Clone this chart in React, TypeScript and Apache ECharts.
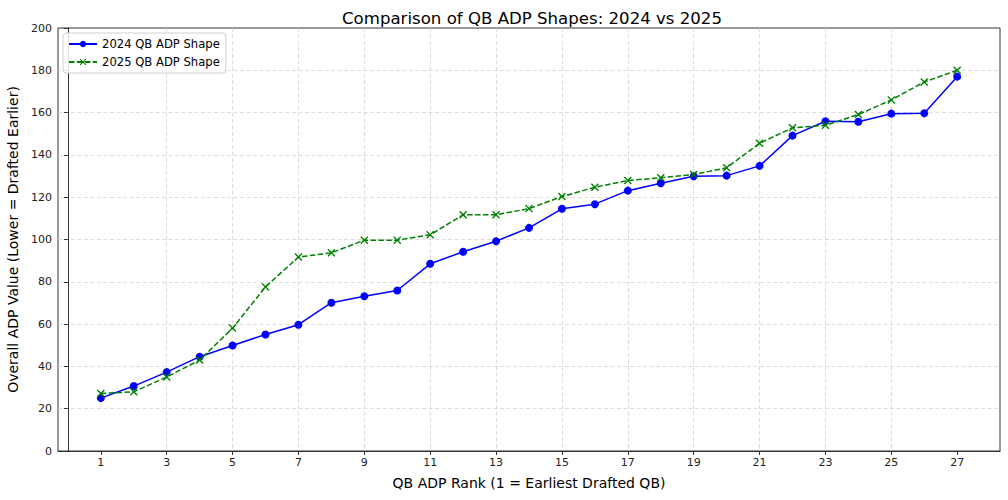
import React, { useEffect, useRef } from "react";
import * as echarts from "echarts";

const ranks = [1, 2, 3, 4, 5, 6, 7, 8, 9, 10, 11, 12, 13, 14, 15, 16, 17, 18, 19, 20, 21, 22, 23, 24, 25, 26, 27];
const adp2024 = [25, 30.7, 37.3, 44.6, 49.9, 55.1, 59.7, 70.1, 73.2, 75.9, 88.5, 94.2, 99.2, 105.5, 114.5, 116.7, 123.1, 126.6, 129.9, 130.2, 134.8, 149.1, 155.9, 155.7, 159.5, 159.7, 177];
const adp2025 = [27.2, 28.0, 35.0, 43.0, 58.1, 77.6, 91.7, 93.7, 99.7, 99.7, 102.2, 111.7, 111.7, 114.6, 120.3, 124.7, 127.9, 129.2, 130.7, 133.9, 145.5, 152.8, 154.0, 159.1, 166.0, 174.5, 180];
const xTicks = [1, 3, 5, 7, 9, 11, 13, 15, 17, 19, 21, 23, 25, 27];

const FONT = "DejaVu Sans";
const X_SYMBOL =
  "path://M0,1.2L1.2,0L5,3.8L8.8,0L10,1.2L6.2,5L10,8.8L8.8,10L5,6.2L1.2,10L0,8.8L3.8,5Z";

export default function App() {
  const ref = useRef<HTMLDivElement>(null);
  useEffect(() => {
    if (!ref.current) return;
    const chart = echarts.init(ref.current, undefined, { renderer: "svg" });
    const gridLine = { show: true, showMinLine: false, showMaxLine: false, lineStyle: { color: "#d4d4d4", type: [4, 2.5], width: 0.8 } };
    chart.setOption({
      animation: false,
      backgroundColor: "#fff",
      textStyle: { fontFamily: FONT },
      title: {
        text: "Comparison of QB ADP Shapes: 2024 vs 2025",
        left: 527,
        textAlign: "center",
        top: 5,
        textStyle: { fontFamily: FONT, fontSize: 16.6, fontWeight: "normal", color: "#000" },
      },
      grid: {
        left: 58, right: 8, top: 28, bottom: 49,
        outerBoundsMode: "none",
        containLabel: false,
        show: true, borderColor: "#333", borderWidth: 1, backgroundColor: "transparent",
      },
      legend: {
        orient: "vertical",
        left: 63,
        top: 33,
        padding: [5, 6, 5, 5],
        itemGap: 6,
        itemWidth: 28,
        itemHeight: 8,
        backgroundColor: "rgba(255,255,255,0.85)",
        borderColor: "#d0d0d0",
        borderWidth: 1,
        borderRadius: 3,
        textStyle: { fontFamily: FONT, fontSize: 11.6, color: "#000" },
        data: ["2024 QB ADP Shape", "2025 QB ADP Shape"],
      },
      xAxis: {
        type: "value",
        min: -0.3,
        max: 28.3,
        name: "QB ADP Rank (1 = Earliest Drafted QB)",
        nameLocation: "middle",
        nameGap: 25,
        nameTextStyle: { fontFamily: FONT, fontSize: 14, color: "#000" },
        axisLine: { show: true, lineStyle: { color: "#333", width: 1 } },
        axisTick: { show: true, customValues: xTicks, length: 4, lineStyle: { color: "#333" } },
        axisLabel: { customValues: xTicks, color: "#222", fontFamily: FONT, fontSize: 11, margin: 6 },
        splitLine: gridLine,
      },
      yAxis: {
        type: "value",
        min: 0,
        max: 200,
        interval: 20,
        name: "Overall ADP Value (Lower = Drafted Earlier)",
        nameLocation: "middle",
        nameGap: 35,
        nameTextStyle: { fontFamily: FONT, fontSize: 14, color: "#000" },
        axisLine: { show: true, lineStyle: { color: "#333", width: 1 } },
        axisTick: { show: true, length: 4, lineStyle: { color: "#333" } },
        axisLabel: { color: "#222", fontFamily: FONT, fontSize: 11, margin: 6 },
        splitLine: gridLine,
      },
      series: [
        {
          name: "2024 QB ADP Shape",
          type: "line",
          data: ranks.map((r, i) => [r, adp2024[i]]),
          symbol: "circle",
          symbolSize: 8,
          showAllSymbol: true,
          itemStyle: { color: "#0000ff" },
          lineStyle: { color: "#0000ff", width: 1.5 },
        },
        {
          name: "2025 QB ADP Shape",
          type: "line",
          data: ranks.map((r, i) => [r, adp2025[i]]),
          symbol: X_SYMBOL,
          symbolSize: 8,
          showAllSymbol: true,
          itemStyle: { color: "#008000" },
          lineStyle: { color: "#008000", width: 1.5, type: [5.5, 2.4] },
        },
      ],
    });
    return () => chart.dispose();
  }, []);
  return <div ref={ref} style={{ position: "fixed", left: 0, top: 0, width: 1008, height: 500 }} />;
}
